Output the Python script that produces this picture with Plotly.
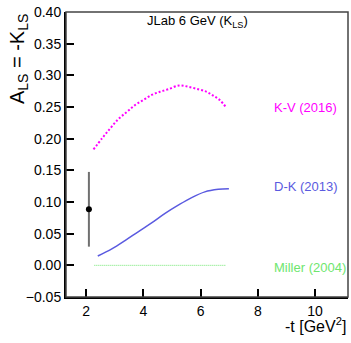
import plotly.graph_objects as go

# K-V (2016) curve
kv_t = [2.26, 2.55, 2.84, 3.13, 3.42, 3.71, 4.00, 4.29, 4.58, 4.87, 5.25, 5.57, 5.92, 6.21, 6.44, 6.67, 6.90]
kv_a = [0.183, 0.200, 0.216, 0.231, 0.242, 0.253, 0.261, 0.269, 0.274, 0.278, 0.284, 0.282, 0.278, 0.274, 0.268, 0.261, 0.249]

# D-K (2013) curve
dk_t = [2.41, 2.90, 3.36, 3.82, 4.29, 4.76, 5.22, 5.69, 6.15, 6.62, 6.99]
dk_a = [0.0147, 0.026, 0.039, 0.053, 0.067, 0.082, 0.095, 0.107, 0.116, 0.120, 0.121]

# Miller (2004) curve
mi_t = [2.29, 6.87]
mi_a = [0.0, 0.0]

# JLab data point
pt_t = [2.10]
pt_a = [0.0885]
pt_err = [0.059]

x_range = [1.3, 11.15]
y_range = [-0.05, 0.40]
x_ticks = [2, 4, 6, 8, 10]
y_ticks = [-0.05, 0.0, 0.05, 0.10, 0.15, 0.20, 0.25, 0.30, 0.35, 0.40]

labels = ["K-V (2016)", "D-K (2013)", "Miller (2004)"]
label_y = [0.2496, 0.125, -0.0036]
label_x = 8.49

C_KV = "#ff00ff"
C_DK = "#5a5ae0"
C_MI = "#6ee66e"
FONT = "Liberation Sans"

fig = go.Figure()
fig.add_trace(go.Scatter(x=kv_t, y=kv_a, mode="lines", line=dict(color=C_KV, width=2, dash="2px,2px", shape="spline"), showlegend=False))
fig.add_trace(go.Scatter(x=dk_t, y=dk_a, mode="lines", line=dict(color=C_DK, width=1.5, shape="spline"), showlegend=False))
fig.add_trace(go.Scatter(x=mi_t, y=mi_a, mode="lines", line=dict(color=C_MI, width=1, dash="1px,1px"), showlegend=False))
fig.add_trace(go.Scatter(x=pt_t, y=pt_a, mode="markers", marker=dict(color="black", size=6),
                         error_y=dict(type="data", array=pt_err, color="#707070", thickness=2, width=0),
                         showlegend=False))

annotations = [
    dict(text="JLab 6 GeV (K<sub>LS</sub>)", xref="paper", yref="paper", x=0.468, y=0.968,
         xanchor="center", yanchor="middle", showarrow=False, font=dict(size=13, color="black", family=FONT)),
    dict(text="A<sub>LS</sub> = -K<sub>LS</sub>", xref="paper", yref="paper", x=-0.17, y=1.0,
         xanchor="center", yanchor="top", textangle=-90, showarrow=False, font=dict(size=20, color="black", family=FONT)),
    dict(text="-t [GeV<sup>2</sup>]", xref="paper", yref="paper", x=1.0, y=-0.098,
         xanchor="right", yanchor="middle", showarrow=False, font=dict(size=16, color="black", family=FONT)),
]
for lab, ly, col in zip(labels, label_y, [C_KV, C_DK, C_MI]):
    annotations.append(dict(text=lab, xref="x", yref="y", x=label_x, y=ly, xanchor="left", yanchor="middle",
                            showarrow=False, font=dict(size=13, color=col, family=FONT)))

fig.update_layout(
    width=351, height=343,
    margin=dict(l=66, r=3, t=12, b=46),
    paper_bgcolor="white", plot_bgcolor="white",
    font=dict(family=FONT, size=14, color="black"),
    annotations=annotations,
    shapes=[dict(type="rect", xref="paper", yref="paper", x0=0, y0=0, x1=1, y1=1,
                 line=dict(color="#444444", width=1.5), layer="above")],
    xaxis=dict(range=x_range, tickvals=x_ticks, ticks="inside", ticklen=8, tickwidth=1.5, tickcolor="black",
               showgrid=False, zeroline=False, showline=True, linecolor="black", linewidth=2,
               tickfont=dict(size=14, family=FONT)),
    yaxis=dict(range=y_range, tickvals=y_ticks, tickformat=".2f", ticks="inside", ticklen=8, tickwidth=1.5,
               tickcolor="black", showgrid=False, zeroline=False, showline=True, linecolor="black", linewidth=2,
               tickfont=dict(size=14, family=FONT)),
)

# remove the default 8px page margin so the figure fills the window exactly
fig.write_html("out.html", config={"displayModeBar": False},
               post_script="document.body.style.margin='0';")
